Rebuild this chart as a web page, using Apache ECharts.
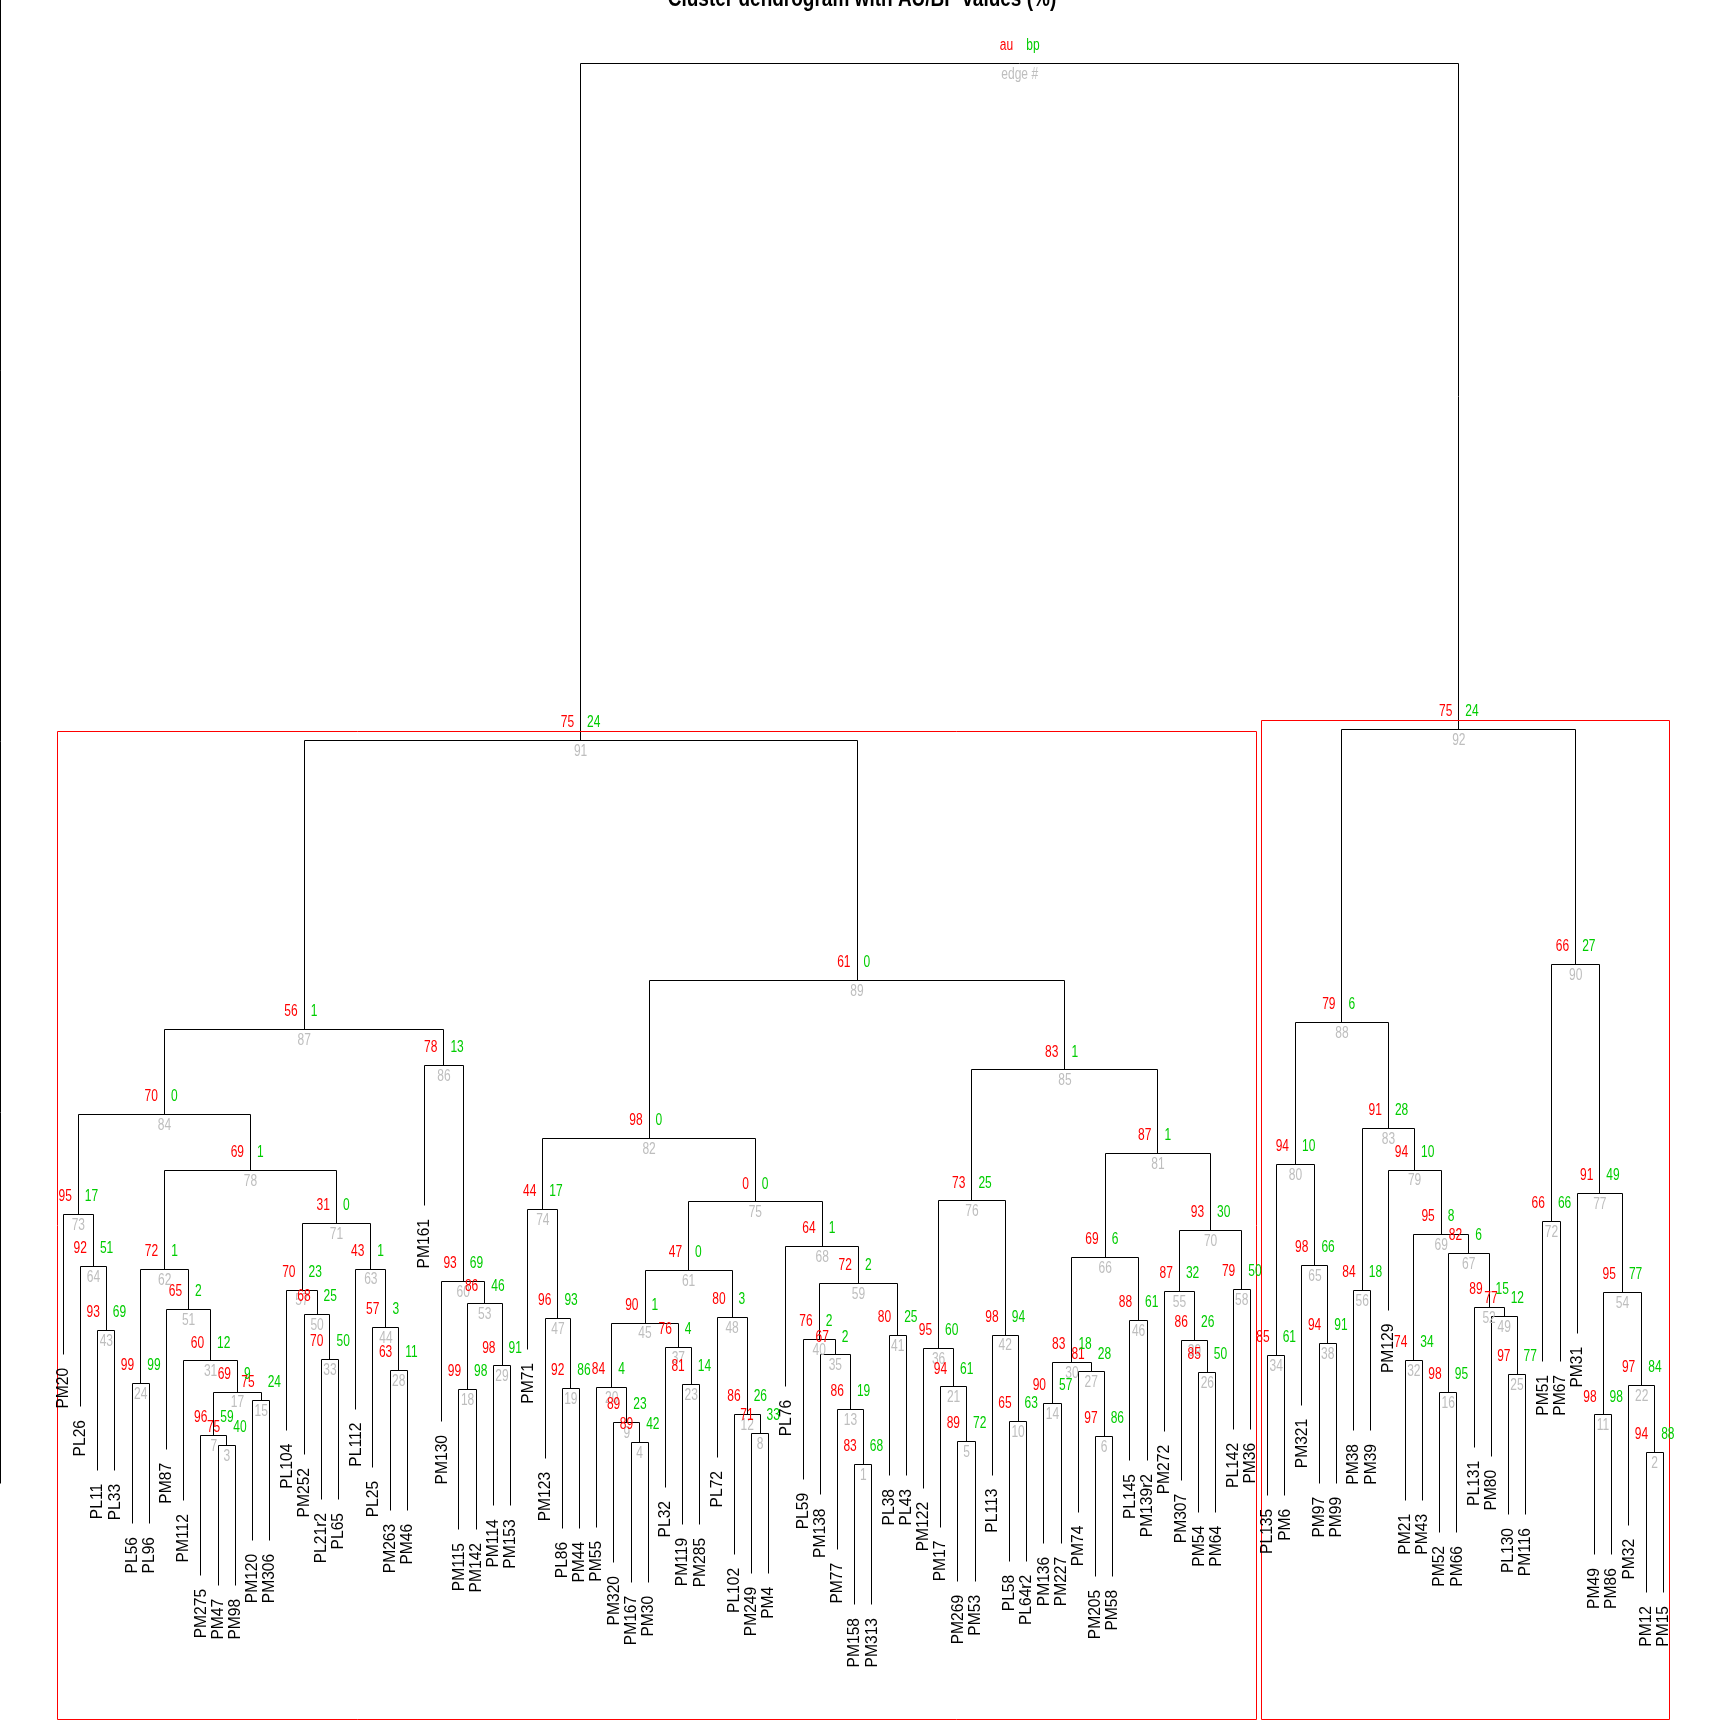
<!DOCTYPE html>
<html>
<head>
<meta charset="utf-8">
<script src="https://cdn.jsdelivr.net/npm/echarts@6/dist/echarts.min.js"></script>
<style>
html,body{margin:0;padding:0;background:#ffffff;}
#chart{width:1728px;height:1728px;}
</style>
</head>
<body>
<div id="chart"></div>
<script>
// ---------------- DATA ----------------
const titleText = "Cluster dendrogram with AU/BP values (%)";

// leaves in display order (position 1..94)
const leafNames = [
  "PM20","PL26","PL11","PL33","PL56","PL96","PM87","PM112","PM275","PM47",
  "PM98","PM120","PM306","PL104","PM252","PL21r2","PL65","PL112","PL25","PM263",
  "PM46","PM161","PM130","PM115","PM142","PM114","PM153","PM71","PM123","PL86",
  "PM44","PM55","PM320","PM167","PM30","PL32","PM119","PM285","PL72","PL102",
  "PM249","PM4","PL76","PL59","PM138","PM77","PM158","PM313","PL38","PL43",
  "PM122","PM17","PM269","PM53","PL113","PL58","PL64r2","PM136","PM227","PM74",
  "PM205","PM58","PL145","PM139r2","PM272","PM307","PM54","PM64","PL142","PM36",
  "PL135","PM6","PM321","PM97","PM99","PM38","PM39","PM129","PM21","PM43",
  "PM52","PM66","PL131","PM80","PL130","PM116","PM51","PM67","PM31","PM49",
  "PM86","PM32","PM12","PM15"
];

// merges (edge # 1..93): negative = leaf position, positive = edge #
const mergeLeft = [
  -47,-93,-10,-34,-53,-61,-9,-41,-33,-56,
  -90,-40,-46,-58,-12,-81,7,-24,-30,-32,
  -52,-92,-37,-5,-85,-67,-60,-20,-26,14,
  -8,-79,-16,-71,-45,-51,-36,-74,-66,-44,
  -49,-55,-3,-19,20,-63,-29,-39,-84,-15,
  -7,-83,18,11,-65,-76,-14,-69,40,-23,
  45,24,-18,-2,-73,30,16,-43,32,55,
  57,-87,-1,-28,61,36,-89,62,-78,34,
  66,74,56,73,76,-22,84,80,82,72,
  87,88,91
];
const mergeRight = [
  -48,-94,-11,-35,-54,-62,3,-42,4,-57,
  -91,8,1,-59,-13,-82,15,-25,-31,9,
  5,2,-38,-6,-86,-68,6,-21,-27,27,
  17,-80,-17,-72,13,21,23,-75,26,35,
  -50,10,-4,28,37,-64,19,12,25,33,
  31,49,29,22,39,-77,50,-70,41,53,
  48,51,44,43,38,46,52,59,67,58,
  63,-88,64,47,68,42,54,71,69,65,
  70,75,79,78,81,60,86,83,85,77,
  89,90,92
];
// merge heights (distance), edge # 1..93
const mergeHeight = [
  0.4063,0.4103,0.4127,0.4137,0.4140,0.4157,0.4160,0.4167,0.4203,0.4207,
  0.4229,0.4230,0.4247,0.4267,0.4277,0.4303,0.4304,0.4313,0.4317,0.4320,
  0.4321,0.4327,0.4330,0.4333,0.4363,0.4370,0.4371,0.4377,0.4392,0.4403,
  0.4409,0.4410,0.4413,0.4427,0.4428,0.4450,0.4453,0.4467,0.4477,0.4480,
  0.4493,0.4494,0.4510,0.4520,0.4534,0.4543,0.4550,0.4553,0.4557,0.4563,
  0.4580,0.4587,0.4598,0.4637,0.4640,0.4643,0.4644,0.4647,0.4667,0.4673,
  0.4710,0.4713,0.4714,0.4723,0.4727,0.4753,0.4767,0.4790,0.4830,0.4843,
  0.4867,0.4873,0.4897,0.4913,0.4938,0.4941,0.4967,0.5043,0.5044,0.5063,
  0.5100,0.5150,0.5183,0.5230,0.5378,0.5393,0.5513,0.5537,0.5677,0.5730,
  0.6477,0.6513,0.8733
];
// AU p-values (%), edge # 1..92
const auValues = [
  83,94,75,89,89,97,96,71,89,65,
  98,86,86,90,75,98,69,99,92,84,
  94,97,81,99,97,85,81,63,98,83,
  60,74,70,85,67,95,76,94,86,76,
  80,98,93,57,90,88,96,80,77,68,
  65,89,86,95,87,84,70,79,72,93,
  47,72,43,92,98,69,82,64,95,93,
  31,66,95,44,0,73,91,69,94,94,
  87,98,91,70,83,78,56,79,61,66,
  75,75
];
// BP values (%), edge # 1..92
const bpValues = [
  68,88,40,42,72,86,59,33,23,63,
  98,26,19,57,24,95,9,98,86,4,
  61,84,14,99,77,50,28,11,91,18,
  12,34,50,61,2,60,4,91,26,2,
  25,94,69,3,1,61,93,3,12,25,
  2,15,46,77,32,18,23,50,2,69,
  0,1,1,51,66,6,6,1,8,30,
  0,66,17,17,0,25,49,1,10,10,
  1,0,28,0,1,13,1,6,0,27,
  24,24
];
// clusters boxed in red
const rectEdges = [91, 92];
// height axis ticks (axis line only visible)
const axisTicks = [0.4, 0.5, 0.6, 0.7, 0.8, 0.9];

// ---------------- LAYOUT ----------------
const X_MIN = -2.6794, X_MAX = 97.7624;
const Y_MIN = 0.318433, Y_MAX = 0.894433;
const FONT = '"Liberation Sans", Arial, Helvetica, sans-serif';

const nLeaf = leafNames.length;
const nMerge = mergeLeft.length;
const nodeX = [], nodeH = [];
const cx = c => c < 0 ? -c : nodeX[c];
for (let k = 1; k <= nMerge; k++) {
  nodeH[k] = mergeHeight[k - 1];
  nodeX[k] = (cx(mergeLeft[k - 1]) + cx(mergeRight[k - 1])) / 2;
}
const hang = 0.1 * (Math.max(...mergeHeight) - Math.min(...mergeHeight));
const cBottom = (c, h) => c < 0 ? h - hang : nodeH[c];

const linkData = [];
const leafItems = [];
for (let k = 1; k <= nMerge; k++) {
  const a = mergeLeft[k - 1], b = mergeRight[k - 1], h = nodeH[k];
  linkData.push([cx(a), cBottom(a, h), cx(b), cBottom(b, h), h]);
  [a, b].forEach(c => {
    if (c < 0) leafItems.push({x: -c, y: h - hang, text: leafNames[-c - 1], kind: 'leaf'});
  });
}

const FLOAT = 0.01 * (Y_MAX - Y_MIN);
const edgeItems = [], auItems = [], bpItems = [];
for (let k = 1; k <= nMerge; k++) {
  const isRoot = k === nMerge;
  edgeItems.push({x: nodeX[k], y: nodeH[k], text: isRoot ? 'edge #' : String(k), kind: 'edge'});
  auItems.push({x: nodeX[k], y: nodeH[k] + FLOAT, text: isRoot ? 'au' : String(auValues[k - 1]), kind: 'au'});
  bpItems.push({x: nodeX[k], y: nodeH[k] + FLOAT, text: isRoot ? 'bp' : String(bpValues[k - 1]), kind: 'bp'});
}
const textItems = leafItems.concat(edgeItems, auItems, bpItems);

function leavesOf(e) {
  const out = [];
  (function walk(c) {
    if (c < 0) { out.push(-c); return; }
    walk(mergeLeft[c - 1]); walk(mergeRight[c - 1]);
  })(e);
  return out;
}
const mx = (X_MAX - X_MIN) / nLeaf / 3;
const my = (Y_MAX - Y_MIN) / 200;
const rectData = rectEdges.map(e => {
  const lv = leavesOf(e);
  return [Math.min(...lv) - mx, Y_MIN + my, Math.max(...lv) + mx, nodeH[e] + my];
});

const crisp = v => Math.floor(v) + 0.5;

function renderLink(params, api) {
  const v = [0, 1, 2, 3, 4].map(i => api.value(i));
  const pts = [[v[0], v[1]], [v[0], v[4]], [v[2], v[4]], [v[2], v[3]]]
    .map(p => { const c = api.coord(p); return [crisp(c[0]), crisp(c[1])]; });
  return {type: 'polyline', shape: {points: pts}, style: {stroke: '#000000', lineWidth: 1, fill: 'none'}};
}
function renderAxis(params, api) {
  const p1 = api.coord([api.value(0), api.value(1)]);
  const p2 = api.coord([api.value(0), api.value(2)]);
  return {type: 'line', shape: {x1: crisp(p1[0]), y1: crisp(p1[1]), x2: crisp(p2[0]), y2: crisp(p2[1])},
    style: {stroke: '#000000', lineWidth: 1}};
}
function renderRect(params, api) {
  const p1 = api.coord([api.value(0), api.value(3)]);
  const p2 = api.coord([api.value(2), api.value(1)]);
  const x = crisp(p1[0]), y = crisp(p1[1]);
  return {type: 'rect', shape: {x: x, y: y, width: crisp(p2[0]) - x, height: crisp(p2[1]) - y},
    style: {stroke: '#FF0000', lineWidth: 1, fill: 'none'}};
}
function renderText(params, api) {
  const t = textItems[params.dataIndex];
  const p = api.coord([api.value(0), api.value(1)]);
  if (t.kind === 'leaf') {
    return {type: 'text', x: p[0], y: p[1] + 13.5, rotation: Math.PI / 2, scaleY: 1.1,
      style: {text: t.text, fill: '#000000', fontSize: 15.6, fontFamily: FONT, align: 'right', verticalAlign: 'middle'}};
  }
  const base = {fontSize: 12, fontFamily: FONT, verticalAlign: 'middle', text: t.text};
  if (t.kind === 'au') {
    return {type: 'text', x: p[0] - 6.5, y: p[1], scaleY: 1.32,
      style: Object.assign(base, {fill: '#FF0000', align: 'right'})};
  }
  if (t.kind === 'bp') {
    return {type: 'text', x: p[0] + 6.5, y: p[1], scaleY: 1.32,
      style: Object.assign(base, {fill: '#00CD00', align: 'left'})};
  }
  return {type: 'text', x: p[0], y: p[1] + 11, scaleY: 1.32,
    style: Object.assign(base, {fill: '#BEBEBE', align: 'center'})};
}

const chart = echarts.init(document.getElementById('chart'), null, {renderer: 'canvas'});
chart.setOption({
  animation: false,
  backgroundColor: '#ffffff',
  grid: {left: 0, right: 0, top: 0, bottom: 0},
  xAxis: {type: 'value', min: X_MIN, max: X_MAX, show: false},
  yAxis: {type: 'value', min: Y_MIN, max: Y_MAX, show: false},
  graphic: [{
    type: 'text', x: 862, y: -1, scaleY: 1.3,
    style: {text: titleText, fill: '#000000', fontSize: 19, fontWeight: 'bold', fontFamily: FONT,
      align: 'center', verticalAlign: 'middle'}
  }],
  series: [
    {type: 'custom', name: 'tree', renderItem: renderLink, data: linkData, clip: false, silent: true,
      encode: {x: 0, y: 1}},
    {type: 'custom', name: 'axis', renderItem: renderAxis,
      data: [[X_MIN, axisTicks[0], axisTicks[axisTicks.length - 1]]], clip: false, silent: true, encode: {x: 0, y: 1}},
    {type: 'custom', name: 'clusters', renderItem: renderRect, data: rectData, clip: false, silent: true,
      encode: {x: 0, y: 1}},
    {type: 'custom', name: 'labels', renderItem: renderText, data: textItems.map(t => [t.x, t.y]),
      clip: false, silent: true, encode: {x: 0, y: 1}}
  ]
});
</script>
</body>
</html>
